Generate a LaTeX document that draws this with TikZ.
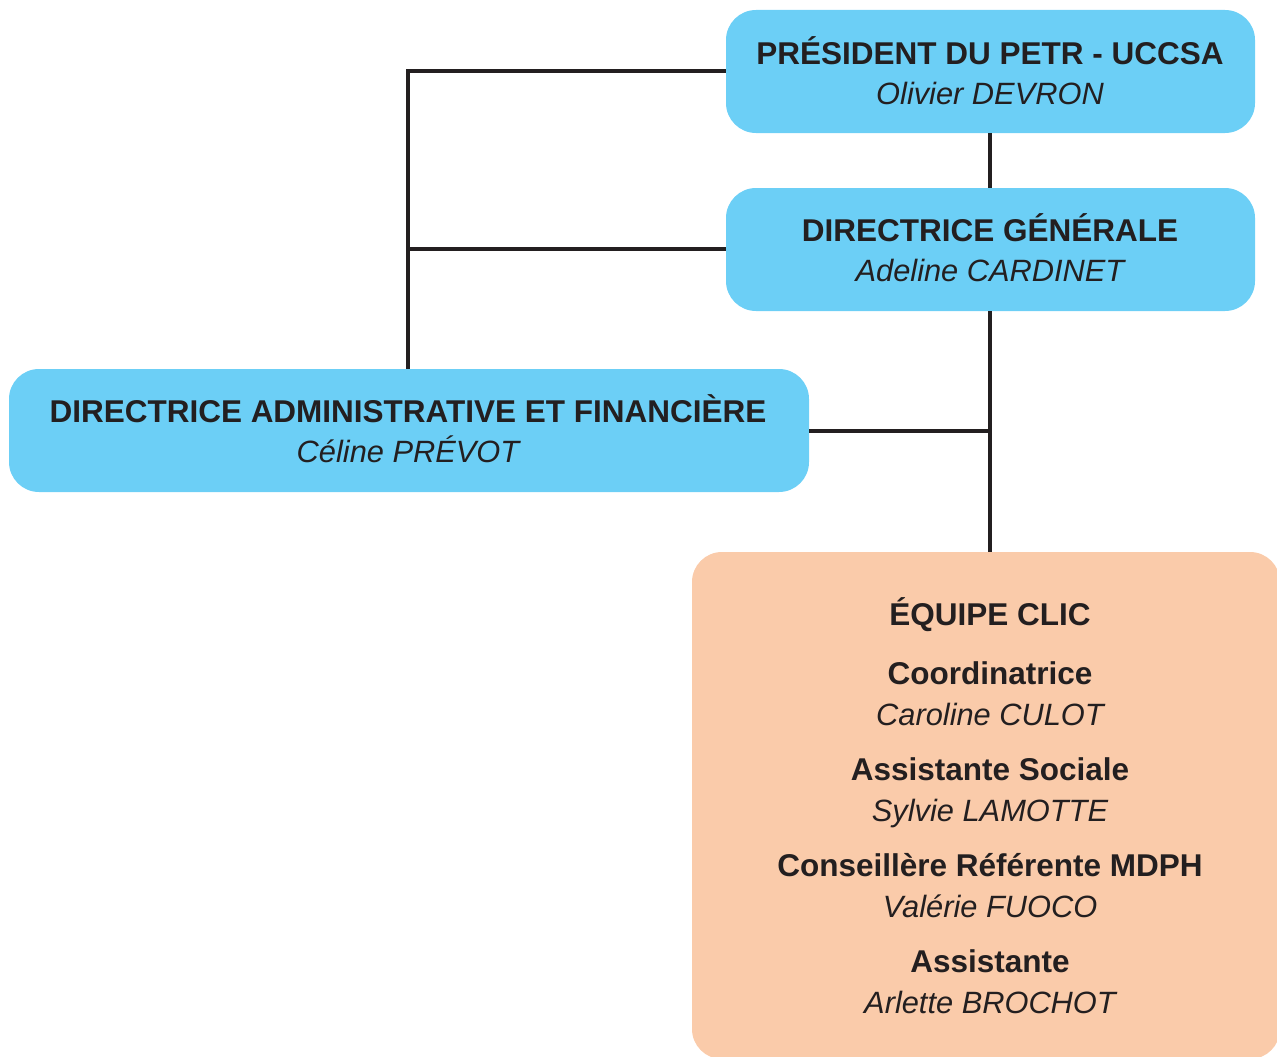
\documentclass[tikz,border=0pt]{standalone}
\usepackage{fontspec}
\setmainfont{Liberation Sans}
\definecolor{boxblue}{HTML}{6CCFF6}
\definecolor{boxpeach}{HTML}{FACBAA}
\definecolor{ink}{HTML}{231F20}
\begin{document}
\begin{tikzpicture}[x=1pt,y=-1pt,
  bluebox/.style={fill=boxblue, rounded corners=30pt, draw=none},
  peachbox/.style={fill=boxpeach, rounded corners=30pt, draw=none},
  roletxt/.style={anchor=base, inner sep=0pt, text=ink, font=\fontsize{31.5}{36}\selectfont\bfseries},
  persontxt/.style={anchor=base, inner sep=0pt, text=ink, font=\fontsize{30.8}{36}\selectfont\itshape},
  link/.style={draw=ink, line width=4pt}]
\useasboundingbox (0,0) rectangle (1277,1057);
\clip (0,0) rectangle (1277,1057);
% boxes
\path[bluebox] (726,10) rectangle (1255,133);
\node[inner sep=0pt, minimum width=529pt, minimum height=123pt] (pres) at (990.5,71.5) {};
\path[bluebox] (726,188) rectangle (1255,311);
\node[inner sep=0pt, minimum width=529pt, minimum height=123pt] (dg) at (990.5,249.5) {};
\path[bluebox] (9,369) rectangle (809,492);
\node[inner sep=0pt, minimum width=800pt, minimum height=123pt] (daf) at (409,430.5) {};
\path[peachbox] (692,552) rectangle (1280,1059);
\node[inner sep=0pt, minimum width=588pt, minimum height=507pt] (clic) at (986,805.5) {};
% connectors
\coordinate (jl) at (408,71);
\coordinate (jm) at (408,249);
\coordinate (jr) at (990,431);
\draw[link] (pres.south -| jr) -- (dg.north -| jr);
\draw[link] (dg.south -| jr) -- (clic.north -| jr);
\draw[link] (daf.east |- jr) -- (jr);
\draw[link] (pres.west |- jl) -- (jl) -- (daf.north -| jl);
\draw[link] (dg.west |- jm) -- (jm);
% texts
\node[roletxt] (t1) at (990,64) {PRÉSIDENT DU PETR - UCCSA};
\node[persontxt]  (n1) at (990,104) {Olivier DEVRON};
\node[roletxt] (t2) at (990,241) {DIRECTRICE GÉNÉRALE};
\node[persontxt]  (n2) at (990,281) {Adeline CARDINET};
\node[roletxt] (t3) at (408,422) {DIRECTRICE ADMINISTRATIVE ET FINANCIÈRE};
\node[persontxt]  (n3) at (408,462) {Céline PRÉVOT};
\node[roletxt] (t4) at (990,625) {ÉQUIPE CLIC};
\node[roletxt] (t5) at (990,684) {Coordinatrice};
\node[persontxt]  (n5) at (990,725) {Caroline CULOT};
\node[roletxt] (t6) at (990,780) {Assistante Sociale};
\node[persontxt]  (n6) at (990,821) {Sylvie LAMOTTE};
\node[roletxt] (t7) at (990,876) {Conseillère Référente MDPH};
\node[persontxt]  (n7) at (990,917) {Valérie FUOCO};
\node[roletxt] (t8) at (990,972) {Assistante};
\node[persontxt]  (n8) at (990,1013) {Arlette BROCHOT};
\end{tikzpicture}
\end{document}
